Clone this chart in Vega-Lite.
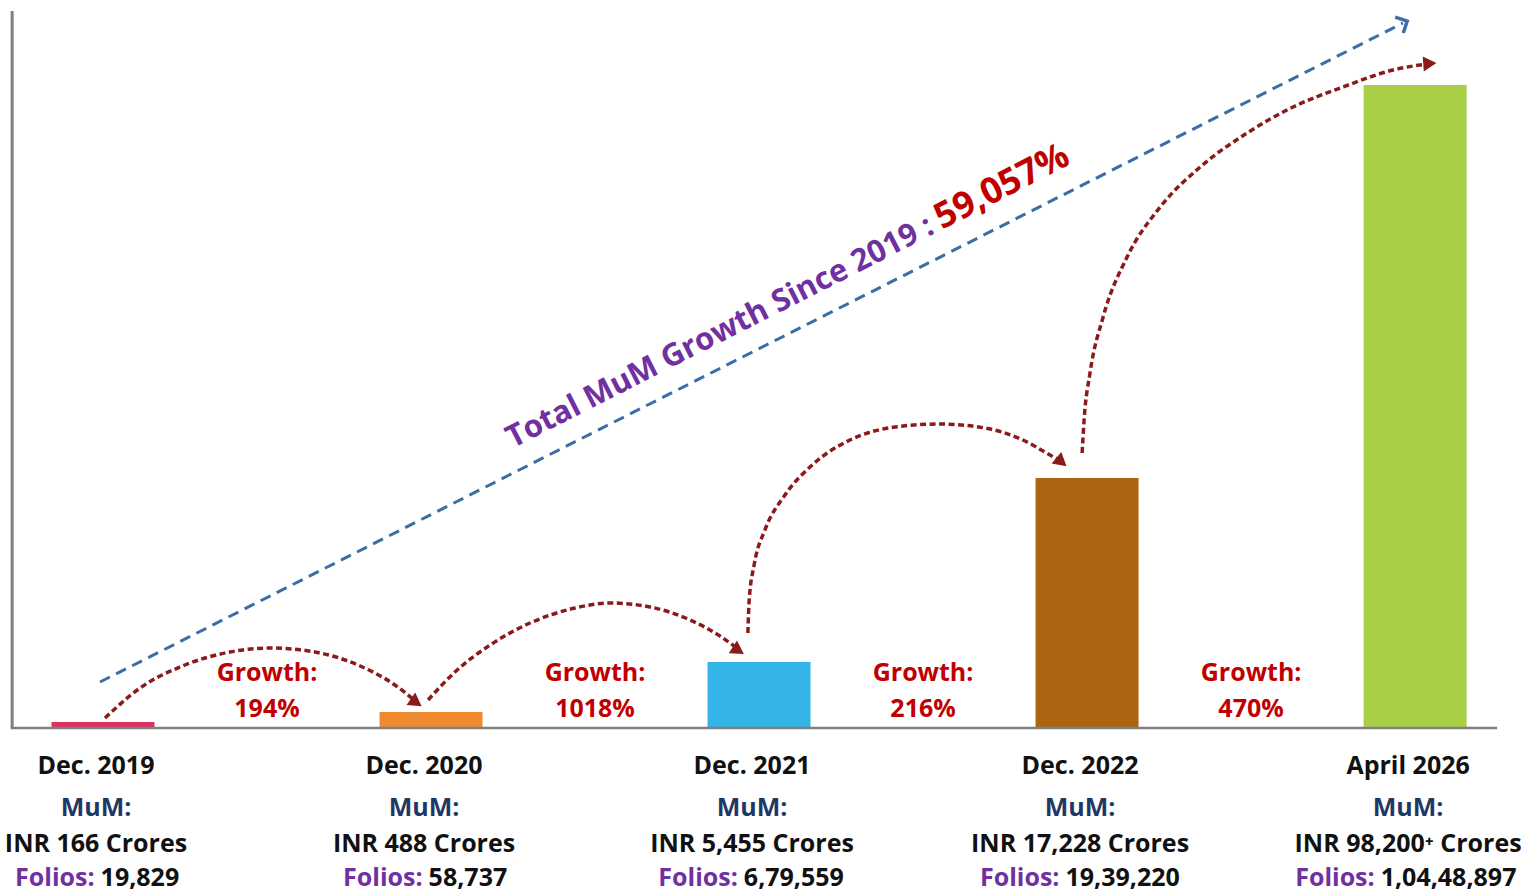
{
  "$schema": "https://vega.github.io/schema/vega-lite/v6.json",
  "autosize": {"type": "none"},
  "width": 1523,
  "height": 892,
  "padding": 0,
  "background": "white",
  "config": {"view": {"stroke": null}, "font": "Open Sans"},
  "datasets": {
    "periods": [
      {"idx": 0, "period": "Dec. 2019", "mum": "INR 166 Crores", "folios": "19,829", "barHeight": 6},
      {"idx": 1, "period": "Dec. 2020", "mum": "INR 488 Crores", "folios": "58,737", "barHeight": 16},
      {"idx": 2, "period": "Dec. 2021", "mum": "INR 5,455 Crores", "folios": "6,79,559", "barHeight": 66},
      {"idx": 3, "period": "Dec. 2022", "mum": "INR 17,228 Crores", "folios": "19,39,220", "barHeight": 250},
      {"idx": 4, "period": "April 2026", "mum": "INR 98,200⁺ Crores", "folios": "1,04,48,897", "barHeight": 643}
    ],
    "growth": [
      {"mid": 0.5, "growth": "194%"},
      {"mid": 1.5, "growth": "1018%"},
      {"mid": 2.5, "growth": "216%"},
      {"mid": 3.5, "growth": "470%"}
    ],
    "curves": [
      {"curve": 1, "u": 0.006, "v": 10},
      {"curve": 1, "u": 0.113, "v": 40},
      {"curve": 1, "u": 0.25, "v": 63},
      {"curve": 1, "u": 0.387, "v": 76},
      {"curve": 1, "u": 0.509, "v": 80},
      {"curve": 1, "u": 0.646, "v": 76},
      {"curve": 1, "u": 0.784, "v": 62},
      {"curve": 1, "u": 0.89, "v": 43},
      {"curve": 1, "u": 0.952, "v": 27},
      {"curve": 2, "u": 0.991, "v": 28},
      {"curve": 2, "u": 1.073, "v": 56},
      {"curve": 2, "u": 1.18, "v": 83},
      {"curve": 2, "u": 1.302, "v": 105},
      {"curve": 2, "u": 1.439, "v": 120},
      {"curve": 2, "u": 1.546, "v": 125},
      {"curve": 2, "u": 1.668, "v": 121},
      {"curve": 2, "u": 1.79, "v": 108},
      {"curve": 2, "u": 1.881, "v": 92},
      {"curve": 2, "u": 1.932, "v": 80},
      {"curve": 3, "u": 1.966, "v": 95},
      {"curve": 3, "u": 1.97, "v": 128},
      {"curve": 3, "u": 1.985, "v": 163},
      {"curve": 3, "u": 2.018, "v": 198},
      {"curve": 3, "u": 2.079, "v": 233},
      {"curve": 3, "u": 2.162, "v": 263},
      {"curve": 3, "u": 2.277, "v": 288},
      {"curve": 3, "u": 2.415, "v": 301},
      {"curve": 3, "u": 2.552, "v": 304},
      {"curve": 3, "u": 2.689, "v": 300},
      {"curve": 3, "u": 2.811, "v": 287},
      {"curve": 3, "u": 2.887, "v": 273},
      {"curve": 3, "u": 2.916, "v": 268},
      {"curve": 4, "u": 2.985, "v": 275},
      {"curve": 4, "u": 2.991, "v": 308},
      {"curve": 4, "u": 3.009, "v": 355},
      {"curve": 4, "u": 3.049, "v": 411},
      {"curve": 4, "u": 3.122, "v": 471},
      {"curve": 4, "u": 3.223, "v": 521},
      {"curve": 4, "u": 3.345, "v": 561},
      {"curve": 4, "u": 3.488, "v": 595},
      {"curve": 4, "u": 3.628, "v": 621},
      {"curve": 4, "u": 3.78, "v": 641},
      {"curve": 4, "u": 3.933, "v": 658},
      {"curve": 4, "u": 4.035, "v": 664}
    ],
    "totalArrow": [
      {"u": -0.009, "v": 46},
      {"u": 3.963, "v": 705}
    ],
    "one": [{}]
  },
  "layer": [
    {
      "data": {"name": "periods"},
      "mark": {"type": "bar", "width": 103},
      "encoding": {
        "x": {"field": "idx", "type": "quantitative", "scale": {"domain": [-0.314, 4.329], "nice": false, "zero": false, "padding": 0}, "axis": null},
        "y": {"field": "barHeight", "type": "quantitative", "scale": {"domain": [-164, 728], "nice": false, "zero": false, "padding": 0}, "axis": null},
        "y2": {"datum": 0},
        "color": {
          "field": "period", "type": "nominal", "legend": null,
          "scale": {"domain": ["Dec. 2019", "Dec. 2020", "Dec. 2021", "Dec. 2022", "April 2026"],
                    "range": ["#e03060", "#f08a30", "#33b5e8", "#ad6410", "#a9cf46"]}
        }
      }
    },
    {
      "data": {"name": "one"},
      "mark": {"type": "rule", "color": "#7f7f7f", "strokeWidth": 3},
      "encoding": {
        "x": {"datum": -0.277, "type": "quantitative"},
        "y": {"datum": 0, "type": "quantitative"},
        "y2": {"datum": 717}
      }
    },
    {
      "data": {"name": "one"},
      "mark": {"type": "rule", "color": "#7f7f7f", "strokeWidth": 2.5},
      "encoding": {
        "x": {"datum": -0.281, "type": "quantitative"},
        "x2": {"datum": 4.25},
        "y": {"datum": 0, "type": "quantitative"}
      }
    },
    {
      "data": {"name": "totalArrow"},
      "mark": {"type": "line", "color": "#3b6ea8", "strokeWidth": 3, "strokeDash": [11, 7]},
      "encoding": {
        "x": {"field": "u", "type": "quantitative"},
        "y": {"field": "v", "type": "quantitative"}
      }
    },
    {
      "data": {"name": "one"},
      "mark": {"type": "point", "shape": "M-1,-1L0,0L-1,1", "filled": false, "stroke": "#3b6ea8", "strokeWidth": 3.5, "size": 320, "angle": -27, "opacity": 1},
      "encoding": {
        "x": {"datum": 3.976, "type": "quantitative"},
        "y": {"datum": 707, "type": "quantitative"}
      }
    },
    {
      "data": {"name": "curves"},
      "mark": {"type": "line", "color": "#8b1a1a", "strokeWidth": 3.5, "strokeDash": [6, 3.5], "interpolate": "monotone"},
      "encoding": {
        "x": {"field": "u", "type": "quantitative"},
        "y": {"field": "v", "type": "quantitative"},
        "detail": {"field": "curve", "type": "nominal"}
      }
    },
    {
      "data": {"name": "one"},
      "mark": {"type": "point", "shape": "triangle-right", "filled": true, "color": "#8b1a1a", "size": 230, "angle": 35, "opacity": 1},
      "encoding": {"x": {"datum": 0.955, "type": "quantitative"}, "y": {"datum": 25.5, "type": "quantitative"}}
    },
    {
      "data": {"name": "one"},
      "mark": {"type": "point", "shape": "triangle-right", "filled": true, "color": "#8b1a1a", "size": 230, "angle": 33, "opacity": 1},
      "encoding": {"x": {"datum": 1.937, "type": "quantitative"}, "y": {"datum": 77.5, "type": "quantitative"}}
    },
    {
      "data": {"name": "one"},
      "mark": {"type": "point", "shape": "triangle-right", "filled": true, "color": "#8b1a1a", "size": 230, "angle": 40, "opacity": 1},
      "encoding": {"x": {"datum": 2.922, "type": "quantitative"}, "y": {"datum": 266, "type": "quantitative"}}
    },
    {
      "data": {"name": "one"},
      "mark": {"type": "point", "shape": "triangle-right", "filled": true, "color": "#8b1a1a", "size": 230, "angle": -4, "opacity": 1},
      "encoding": {"x": {"datum": 4.045, "type": "quantitative"}, "y": {"datum": 664.5, "type": "quantitative"}}
    },
    {
      "data": {"name": "one"},
      "mark": {"type": "text", "text": "Total MuM Growth Since 2019 :", "align": "right", "baseline": "alphabetic", "angle": -27, "dx": -4, "fontSize": 31, "fontWeight": "bold", "color": "#7030a0"},
      "encoding": {"x": {"datum": 2.55, "type": "quantitative"}, "y": {"datum": 497, "type": "quantitative"}}
    },
    {
      "data": {"name": "one"},
      "mark": {"type": "text", "text": "59,057%", "align": "left", "baseline": "alphabetic", "angle": -27, "dx": 3, "fontSize": 36, "fontWeight": "bold", "color": "#c00000"},
      "encoding": {"x": {"datum": 2.55, "type": "quantitative"}, "y": {"datum": 497, "type": "quantitative"}}
    },
    {
      "data": {"name": "growth"},
      "mark": {"type": "text", "text": "Growth:", "baseline": "middle", "fontSize": 25, "fontWeight": "bold", "color": "#c00000"},
      "encoding": {
        "x": {"field": "mid", "type": "quantitative"},
        "y": {"datum": 55, "type": "quantitative"}
      }
    },
    {
      "data": {"name": "growth"},
      "mark": {"type": "text", "baseline": "middle", "fontSize": 25, "fontWeight": "bold", "color": "#c00000"},
      "encoding": {
        "x": {"field": "mid", "type": "quantitative"},
        "y": {"datum": 19, "type": "quantitative"},
        "text": {"field": "growth"}
      }
    },
    {
      "data": {"name": "periods"},
      "mark": {"type": "text", "baseline": "middle", "dx": -7, "fontSize": 25, "fontWeight": "bold", "color": "#111111"},
      "encoding": {
        "x": {"field": "idx", "type": "quantitative"},
        "y": {"datum": -38, "type": "quantitative"},
        "text": {"field": "period"}
      }
    },
    {
      "data": {"name": "periods"},
      "mark": {"type": "text", "text": "MuM:", "baseline": "middle", "dx": -7, "fontSize": 25, "fontWeight": "bold", "color": "#1f3864"},
      "encoding": {
        "x": {"field": "idx", "type": "quantitative"},
        "y": {"datum": -80, "type": "quantitative"}
      }
    },
    {
      "data": {"name": "periods"},
      "mark": {"type": "text", "baseline": "middle", "dx": -7, "fontSize": 25, "fontWeight": "bold", "color": "#111111"},
      "encoding": {
        "x": {"field": "idx", "type": "quantitative"},
        "y": {"datum": -116, "type": "quantitative"},
        "text": {"field": "mum"}
      }
    },
    {
      "data": {"name": "periods"},
      "transform": [{"calculate": "datum.idx + (80 - length(datum.folios) * 12.8) / 656", "as": "split"}],
      "mark": {"type": "text", "text": "Folios:", "align": "right", "baseline": "middle", "dx": -10, "fontSize": 25, "fontWeight": "bold", "color": "#7030a0"},
      "encoding": {
        "x": {"field": "split", "type": "quantitative"},
        "y": {"datum": -150, "type": "quantitative"}
      }
    },
    {
      "data": {"name": "periods"},
      "transform": [{"calculate": "datum.idx + (80 - length(datum.folios) * 12.8) / 656", "as": "split"}],
      "mark": {"type": "text", "align": "left", "baseline": "middle", "dx": -4, "fontSize": 25, "fontWeight": "bold", "color": "#111111"},
      "encoding": {
        "x": {"field": "split", "type": "quantitative"},
        "y": {"datum": -150, "type": "quantitative"},
        "text": {"field": "folios"}
      }
    }
  ]
}
